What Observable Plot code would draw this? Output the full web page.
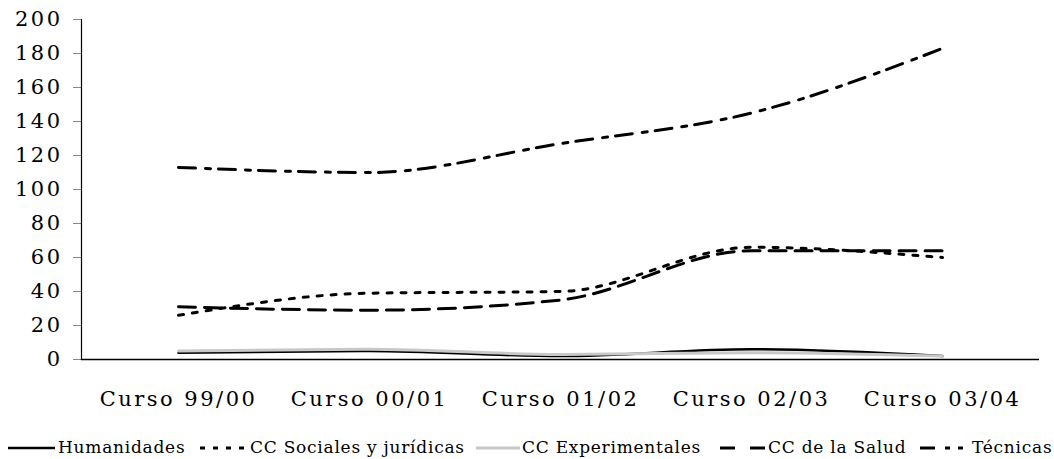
<!DOCTYPE html>
<html>
<head>
<meta charset="utf-8">
<script src="https://cdn.jsdelivr.net/npm/d3@7"></script>
<script src="https://cdn.jsdelivr.net/npm/@observablehq/plot@0.6"></script>
<style>
  html, body { margin: 0; padding: 0; background: #fff; }
  body { width: 1054px; height: 459px; overflow: hidden; font-family: "DejaVu Serif", serif; }
  #legend { position: relative; height: 39px; font-size: 17px; letter-spacing: 0.75px; color: #000; }
  #legend .txt { position: absolute; top: 17px; line-height: 20px; white-space: nowrap; }
  #legend svg { position: absolute; top: 25px; display: block; }
</style>
</head>
<body>
<div id="chart"></div>
<div id="legend"></div>
<script>
const categories = ["Curso 99/00", "Curso 00/01", "Curso 01/02", "Curso 02/03", "Curso 03/04"];
const seriesNames = ["Humanidades", "CC Sociales y jurídicas", "CC Experimentales", "CC de la Salud", "Técnicas"];
const humanidades = [4, 5, 2, 6, 2];
const sociales = [26, 39, 40, 66, 60];
const experimentales = [5, 6, 3, 4, 2];
const salud = [31, 29, 35, 64, 64];
const tecnicas = [113, 110, 127, 145, 183];
const yTicks = [0, 20, 40, 60, 80, 100, 120, 140, 160, 180, 200];

const seriesValues = [humanidades, sociales, experimentales, salud, tecnicas];
const styles = [
  {stroke: "#000", width: 2.5, dash: null, legendDash: null},
  {stroke: "#000", width: 3, dash: "5,9", legendDash: "5,8"},
  {stroke: "#c8c8c8", width: 3, dash: null, legendDash: null},
  {stroke: "#000", width: 3, dash: "17,9", legendDash: "15,15"},
  {stroke: "#000", width: 3, dash: "17,10,5,8", legendDash: "15,10,5,8,5,8"}
];

const data = [];
seriesNames.forEach((s, i) => {
  categories.forEach((c, j) => data.push({series: s, curso: c, value: seriesValues[i][j]}));
});

const font = "DejaVu Serif, serif";

const lineMarks = seriesNames.map((s, i) => Plot.line(data.filter(d => d.series === s), {
  x: "curso", y: "value",
  stroke: styles[i].stroke, strokeWidth: styles[i].width,
  strokeDasharray: styles[i].dash ?? undefined,
  curve: "monotone-x"
}));

const plot = Plot.plot({
  width: 1054,
  height: 420,
  marginTop: 19,
  marginBottom: 61,
  marginLeft: 81,
  marginRight: 15,
  style: {fontFamily: font, background: "#fff", color: "#000", letterSpacing: "2.5px"},
  x: {type: "point", domain: categories, padding: 0.5},
  y: {domain: [0, 200]},
  marks: [
    Plot.axisY({ticks: yTicks, tickSize: 8, tickPadding: 11, stroke: "#888", fill: "#000", fontSize: 21, fontFamily: font, label: null}),
    Plot.axisX({tickSize: 0, tickPadding: 32, fontSize: 21, fontFamily: font, label: null}),
    Plot.frame({anchor: "left", stroke: "#000", strokeWidth: 1.2}),
    Plot.ruleY([0], {stroke: "#000", strokeWidth: 1.5}),
    ...lineMarks
  ]
});
document.getElementById("chart").appendChild(plot);

// Legend
const legend = document.getElementById("legend");
const lineX = [[8, 55], [200, 248], [476, 520], [720, 767], [920, 970]];
const textX = [58, 250, 522, 768, 972];
seriesNames.forEach((s, i) => {
  const st = styles[i];
  const [x0, x1] = lineX[i];
  const svg = document.createElementNS("http://www.w3.org/2000/svg", "svg");
  svg.setAttribute("width", x1 - x0);
  svg.setAttribute("height", 6);
  svg.style.left = x0 + "px";
  svg.innerHTML = `<line x1="0" x2="${x1 - x0}" y1="3" y2="3" stroke="${st.stroke}" stroke-width="${st.width}" ${st.legendDash ? `stroke-dasharray="${st.legendDash}"` : ""}/>`;
  legend.appendChild(svg);
  const t = document.createElement("span");
  t.className = "txt";
  t.style.left = textX[i] + "px";
  t.textContent = s;
  legend.appendChild(t);
});
</script>
</body>
</html>
